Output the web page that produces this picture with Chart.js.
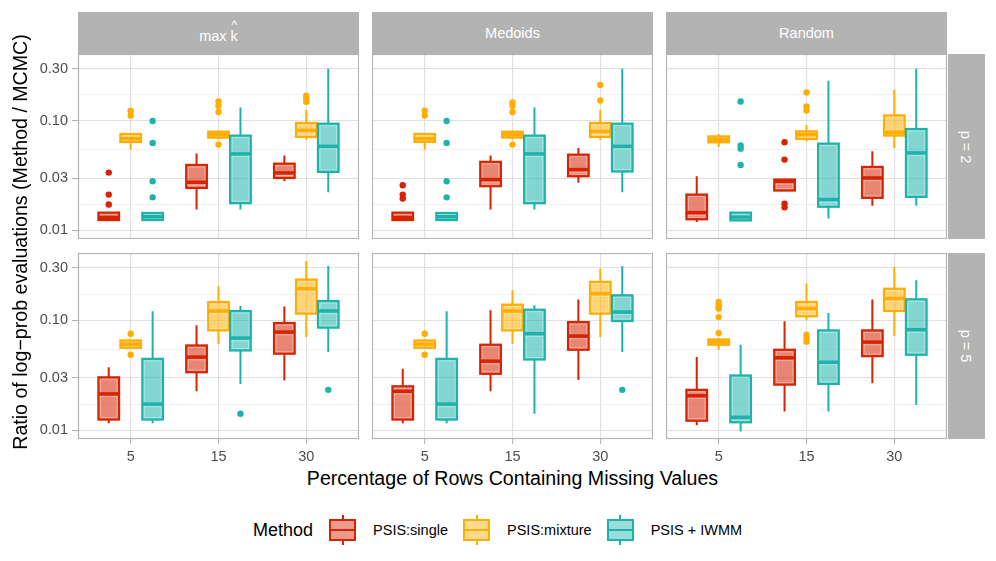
<!DOCTYPE html>
<html>
<head>
<meta charset="utf-8">
<script src="https://cdn.jsdelivr.net/npm/chart.js@4.4.0/dist/chart.umd.min.js"></script>
<style>
  body { margin: 0; background: #fff; font-family: "Liberation Sans", Arial, Helvetica, sans-serif; }
  #wrap { position: relative; width: 996px; height: 561px; overflow: hidden; }
  .panel { position: absolute; }
  .strip { position: absolute; background: #b3b3b3; color: #fff; font-size: 14.5px;
           display: flex; align-items: center; justify-content: center; }
  .vstrip span { transform: rotate(90deg); white-space: nowrap; }
  .khat { position: relative; display: inline-block; }
  .khat .hat { position: absolute; left: 0; right: 0; top: -11px; text-align: center; font-size: 13px; }
  .title { position: absolute; color: #000; font-size: 19.6px; line-height: 24px; white-space: nowrap; }
  #ytitle { width: 460px; left: -210px; top: 229.5px; text-align: center; transform: rotate(-90deg); }
  #xtitle { left: 78px; width: 869px; top: 466px; text-align: center; }
  #legend { position: absolute; left: 253px; top: 515px; height: 30px; display: flex; align-items: center; font-size: 14.5px; color: #000; }
  #legend .ltitle { font-size: 18px; margin-right: 15px; }
  .key { position: relative; width: 29px; height: 30px; margin-right: 16px; }
  .key .stub { position: absolute; left: 13.5px; width: 2px; height: 6px; }
  .key .kbox { position: absolute; left: 1px; top: 4px; width: 27px; height: 22px; box-sizing: border-box; border: 2px solid; }
  .key .kmid { position: absolute; left: 0; right: 0; top: 8px; height: 2px; }
  .llabel { margin-right: 14px; }
</style>
</head>
<body>
<div id="wrap">
  <div class="strip" style="left:78px;top:12px;width:281px;height:42px;padding-top:6px;box-sizing:border-box;">max&nbsp;<span class="khat">k<span class="hat">^</span></span></div>
  <div class="strip" style="left:372px;top:12px;width:281px;height:42px;">Medoids</div>
  <div class="strip" style="left:666px;top:12px;width:281px;height:42px;">Random</div>
  <div class="strip vstrip" style="left:948px;top:54px;width:37px;height:185px;"><span>p = 2</span></div>
  <div class="strip vstrip" style="left:948px;top:253px;width:37px;height:186px;"><span>p = 5</span></div>

  <div class="panel" style="left:30px;top:54px;width:329px;height:185px;"><canvas id="c11"></canvas></div>
  <div class="panel" style="left:372px;top:54px;width:281px;height:185px;"><canvas id="c12"></canvas></div>
  <div class="panel" style="left:666px;top:54px;width:281px;height:185px;"><canvas id="c13"></canvas></div>
  <div class="panel" style="left:30px;top:253px;width:329px;height:212px;"><canvas id="c21"></canvas></div>
  <div class="panel" style="left:372px;top:253px;width:281px;height:212px;"><canvas id="c22"></canvas></div>
  <div class="panel" style="left:666px;top:253px;width:281px;height:212px;"><canvas id="c23"></canvas></div>

  <div class="title" id="ytitle">Ratio of log−prob evaluations (Method / MCMC)</div>
  <div class="title" id="xtitle">Percentage of Rows Containing Missing Values</div>
  <div id="legend"></div>
</div>
<script>
// ---- data: [lower whisker, q1, median, q3, upper whisker] per category, one row per method
const categories = ['5', '15', '30'];
const methods = ['PSIS:single', 'PSIS:mixture', 'PSIS + IWMM'];
const yTickValues = [0.01, 0.03, 0.1, 0.3];
const yTickLabels = ['0.01', '0.03', '0.10', '0.30'];
const yMinorValues = [0.01732, 0.05477, 0.17321];

const maxkP2 = [
  [[0.0122, 0.0124, 0.0131, 0.0145, 0.0145], [0.0155, 0.0244, 0.0275, 0.0396, 0.0503], [0.0281, 0.0301, 0.0335, 0.0407, 0.0482]],
  [[0.0547, 0.0643, 0.0689, 0.0761, 0.0761], [0.068, 0.0704, 0.075, 0.0798, 0.082], [0.0675, 0.0714, 0.082, 0.0959, 0.127]],
  [[0.0122, 0.0124, 0.0133, 0.0144, 0.0144], [0.0155, 0.0177, 0.05, 0.0735, 0.133], [0.0223, 0.0342, 0.0586, 0.0945, 0.30]],
];
const maxkP2Out = [
  [[0.0337, 0.0212, 0.0172], [], []],
  [[0.124, 0.112], [0.151, 0.138, 0.121, 0.0608], [0.17, 0.16, 0.15]],
  [[0.1, 0.063, 0.0281, 0.02], [], []],
];

const medoidsP2 = [
  [[0.0122, 0.0124, 0.0131, 0.0145, 0.0145], [0.0155, 0.0253, 0.0291, 0.0423, 0.0482], [0.0272, 0.0312, 0.0359, 0.0492, 0.0567]],
  [[0.0547, 0.0643, 0.0689, 0.0761, 0.0761], [0.068, 0.0704, 0.075, 0.0798, 0.082], [0.0675, 0.0714, 0.08, 0.0959, 0.127]],
  [[0.0122, 0.0124, 0.0133, 0.0144, 0.0144], [0.0155, 0.0177, 0.05, 0.0735, 0.133], [0.0223, 0.0345, 0.0586, 0.0945, 0.30]],
];
const medoidsP2Out = [
  [[0.0258, 0.0212, 0.0195], [], []],
  [[0.124, 0.112], [0.148, 0.138, 0.121, 0.0608], [0.214, 0.154]],
  [[0.1, 0.063, 0.0281, 0.02], [], []],
];

const randomP2 = [
  [[0.0119, 0.0126, 0.0145, 0.0212, 0.0312], [0.0231, 0.0231, 0.028, 0.0291, 0.0296], [0.0168, 0.0198, 0.0301, 0.038, 0.0528]],
  [[0.058, 0.0638, 0.0675, 0.0723, 0.076], [0.0652, 0.0685, 0.075, 0.0804, 0.0919], [0.0567, 0.0735, 0.0787, 0.1125, 0.193]],
  [[0.0122, 0.0123, 0.0132, 0.0145, 0.0145], [0.0128, 0.0164, 0.0191, 0.0621, 0.233], [0.0168, 0.0202, 0.051, 0.0845, 0.30]],
];
const randomP2Out = [
  [[], [0.0638, 0.0443, 0.0175, 0.0162], []],
  [[], [0.182, 0.136, 0.125], []],
  [[0.151, 0.0596, 0.0558, 0.0396], [], []],
];

const maxkP5 = [
  [[0.0116, 0.0125, 0.0214, 0.0303, 0.0375], [0.0226, 0.0337, 0.0463, 0.0591, 0.090], [0.0283, 0.0497, 0.0782, 0.0945, 0.134]],
  [[0.055, 0.0563, 0.0608, 0.0656, 0.067], [0.0612, 0.081, 0.1216, 0.147, 0.205], [0.0704, 0.115, 0.194, 0.235, 0.346]],
  [[0.0116, 0.0125, 0.0173, 0.0446, 0.121], [0.0264, 0.0532, 0.0689, 0.1216, 0.135], [0.0514, 0.0858, 0.1216, 0.150, 0.313]],
];
const maxkP5Out = [
  [[], [], []],
  [[0.0756, 0.0487], [], []],
  [[], [0.0141], [0.0233]],
];

const medoidsP5 = [
  [[0.0116, 0.0125, 0.0226, 0.0251, 0.0362], [0.0226, 0.0326, 0.0425, 0.060, 0.1234], [0.0287, 0.054, 0.0719, 0.0964, 0.1545]],
  [[0.055, 0.0563, 0.0608, 0.0656, 0.067], [0.0612, 0.081, 0.1216, 0.139, 0.188], [0.0704, 0.115, 0.175, 0.224, 0.296]],
  [[0.0116, 0.0125, 0.0173, 0.0446, 0.121], [0.0141, 0.044, 0.0756, 0.125, 0.137], [0.0514, 0.0986, 0.119, 0.169, 0.313]],
];
const medoidsP5Out = [
  [[], [], []],
  [[0.0756, 0.0487], [], []],
  [[], [], [0.0233]],
];

const randomP5 = [
  [[0.0111, 0.0122, 0.0206, 0.0233, 0.0463], [0.0148, 0.026, 0.0456, 0.054, 0.098], [0.0267, 0.0472, 0.0634, 0.081, 0.1545]],
  [[0.054, 0.060, 0.0634, 0.067, 0.069], [0.1, 0.1088, 0.128, 0.147, 0.216], [0.0719, 0.1216, 0.158, 0.194, 0.307]],
  [[0.00975, 0.0118, 0.0131, 0.0315, 0.060], [0.0148, 0.0264, 0.0416, 0.081, 0.1166], [0.017, 0.0486, 0.0822, 0.1555, 0.232]],
];
const randomP5Out = [
  [[], [], []],
  [[0.147, 0.14, 0.134, 0.128, 0.107, 0.0766], [0.074, 0.069, 0.064], []],
  [[], [], []],
];

// ---- styling
const COLORS = ['#D62300', '#FFAD00', '#1DB3AB'];
const DODGE = [-0.25, 0, 0.25];
const BOX_W = 0.235;
const Y_MIN = Math.pow(10, -2.08);
const Y_MAX = Math.pow(10, -0.387);

Chart.defaults.font.family = '"Liberation Sans", Arial, Helvetica, sans-serif';
Chart.defaults.color = '#4d4d4d';

function rgba(hex, a) {
  const n = parseInt(hex.slice(1), 16);
  return `rgba(${(n >> 16) & 255},${(n >> 8) & 255},${n & 255},${a})`;
}
const isMajor = v => yTickValues.indexOf(v) >= 0;
const allYTicks = yTickValues.concat(yMinorValues).sort((a, b) => a - b);

// boxes, whiskers and medians, placed through the chart's own scales
function boxPlugin(stats) {
  return {
    id: 'boxes',
    beforeDatasetsDraw(chart) {
      const { ctx, scales: { x, y } } = chart;
      ctx.save();
      stats.forEach((byCat, m) => {
        const col = COLORS[m];
        byCat.forEach((s, i) => {
          const [lo, q1, med, q3, hi] = s;
          const c = i + 1 + DODGE[m];
          const xl = x.getPixelForValue(c - BOX_W / 2);
          const xr = x.getPixelForValue(c + BOX_W / 2);
          const xc = x.getPixelForValue(c);
          const yLo = y.getPixelForValue(lo), yQ1 = y.getPixelForValue(q1);
          const yMed = y.getPixelForValue(med);
          const yQ3 = y.getPixelForValue(q3), yHi = y.getPixelForValue(hi);
          ctx.strokeStyle = col;
          ctx.lineWidth = 2;
          ctx.beginPath();
          ctx.moveTo(xc, yQ3); ctx.lineTo(xc, yHi);
          ctx.moveTo(xc, yQ1); ctx.lineTo(xc, yLo);
          ctx.stroke();
          ctx.fillStyle = rgba(col, 0.55);
          ctx.fillRect(xl, yQ3, xr - xl, yQ1 - yQ3);
          ctx.lineWidth = 2.2;
          ctx.strokeRect(xl, yQ3, xr - xl, yQ1 - yQ3);
          if (yQ1 - yQ3 > 7) {
            ctx.strokeStyle = 'rgba(255,255,255,0.35)';
            ctx.lineWidth = 1;
            ctx.strokeRect(xl + 2, yQ3 + 2, xr - xl - 4, yQ1 - yQ3 - 4);
          }
          ctx.strokeStyle = col;
          ctx.lineWidth = 3.5;
          ctx.beginPath();
          ctx.moveTo(xl, yMed); ctx.lineTo(xr, yMed);
          ctx.stroke();
          if (yQ1 - yMed > 5) {
            ctx.strokeStyle = 'rgba(255,255,255,0.35)';
            ctx.lineWidth = 1;
            ctx.beginPath();
            ctx.moveTo(xl + 2, yMed + 2.7); ctx.lineTo(xr - 2, yMed + 2.7);
            ctx.stroke();
          }
        });
      });
      ctx.restore();
    },
    afterDraw(chart) {
      const { ctx, chartArea: a } = chart;
      ctx.save();
      ctx.strokeStyle = '#b3b3b3';
      ctx.lineWidth = 1.2;
      ctx.strokeRect(a.left + 0.5, a.top + 0.5, a.right - a.left - 1, a.bottom - a.top - 1);
      ctx.restore();
    },
  };
}

function makePanel(id, stats, outliers, showY, showX) {
  const datasets = outliers.map((byCat, m) => ({
    label: methods[m],
    data: byCat.flatMap((vals, i) => vals.map(v => ({ x: i + 1 + DODGE[m], y: v }))),
    backgroundColor: COLORS[m],
    borderWidth: 0,
    pointRadius: 3.2,
    pointHoverRadius: 3.2,
  }));
  return new Chart(document.getElementById(id), {
    type: 'scatter',
    data: { datasets },
    options: {
      responsive: true,
      maintainAspectRatio: false,
      animation: false,
      layout: { padding: 0, autoPadding: false },
      plugins: { legend: { display: false }, tooltip: { enabled: false } },
      scales: {
        x: {
          type: 'linear', min: 0.4, max: 3.6,
          afterBuildTicks: s => { s.ticks = categories.map((c, i) => ({ value: i + 1 })); },
          afterFit: s => { s.height = showX ? 26 : 0; s.paddingLeft = 0; s.paddingRight = 0; },
          ticks: { display: showX, autoSkip: false, maxRotation: 0, padding: 4,
                   font: { size: 14.5 }, color: '#4d4d4d', callback: v => categories[v - 1] },
          grid: { color: '#e0e0e0', lineWidth: 1.1, drawTicks: showX, tickLength: 5, tickColor: '#b3b3b3' },
          border: { display: false },
        },
        y: {
          type: 'logarithmic', min: Y_MIN, max: Y_MAX,
          afterBuildTicks: s => { s.ticks = allYTicks.map(v => ({ value: v })); },
          afterFit: s => { s.width = showY ? 48 : 0; s.paddingTop = 0; s.paddingBottom = 0; },
          ticks: { display: showY, autoSkip: false, padding: 4,
                   font: { size: 14.5 }, color: '#4d4d4d',
                   callback: v => { const k = yTickValues.indexOf(v); return k < 0 ? '' : yTickLabels[k]; } },
          grid: {
            color: c => isMajor(c.tick.value) ? '#e0e0e0' : '#ececec',
            lineWidth: c => isMajor(c.tick.value) ? 1.1 : 0.8,
            drawTicks: showY, tickLength: 6,
            tickColor: c => isMajor(c.tick.value) ? '#b3b3b3' : 'rgba(0,0,0,0)',
          },
          border: { display: false },
        },
      },
    },
    plugins: [boxPlugin(stats)],
  });
}

makePanel('c11', maxkP2, maxkP2Out, true, false);
makePanel('c12', medoidsP2, medoidsP2Out, false, false);
makePanel('c13', randomP2, randomP2Out, false, false);
makePanel('c21', maxkP5, maxkP5Out, true, true);
makePanel('c22', medoidsP5, medoidsP5Out, false, true);
makePanel('c23', randomP5, randomP5Out, false, true);

// legend
const legend = document.getElementById('legend');
legend.innerHTML = '<span class="ltitle">Method</span>' + methods.map((name, m) => {
  const c = COLORS[m];
  return `<div class="key">
      <div class="stub" style="top:0;background:${c}"></div>
      <div class="stub" style="bottom:0;background:${c}"></div>
      <div class="kbox" style="border-color:${c};background:${rgba(c, 0.45)}"><div class="kmid" style="background:${c}"></div></div>
    </div><span class="llabel">${name}</span>`;
}).join('');
</script>
</body>
</html>
